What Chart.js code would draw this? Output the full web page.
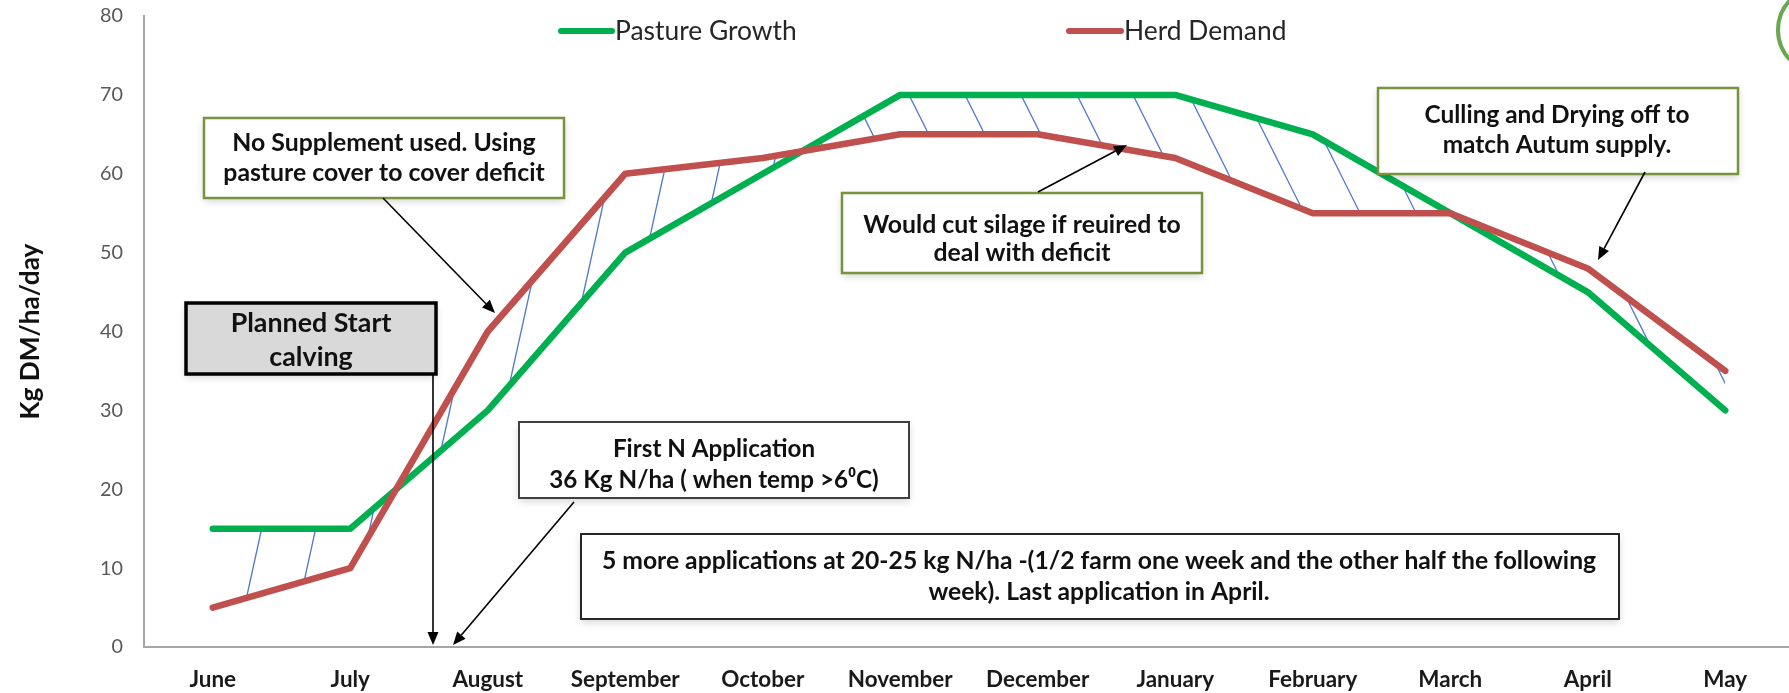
<!DOCTYPE html>
<html>
<head>
<meta charset="utf-8">
<title>Pasture Growth vs Herd Demand</title>
<script src="https://cdn.jsdelivr.net/npm/chart.js"></script>
<style>
    html, body {
        margin: 0;
        padding: 0;
        background: #fff;
        overflow: hidden;
    }
    #main {
        width: 1800px;
        height: 693px;
    }
</style>
</head>
<body>
<div id="main"><canvas id="myChart" width="1800" height="693"></canvas></div>
<script>
    // chart data
    var months = ['June', 'July', 'August', 'September', 'October', 'November',
        'December', 'January', 'February', 'March', 'April', 'May'];
    var pastureGrowth = [15, 15, 30, 50, 60, 70, 70, 70, 65, 55, 45, 30];
    var herdDemand = [5, 10, 40, 60, 62, 65, 65, 62, 55, 55, 48, 35];
    var seriesNames = ['Pasture Growth', 'Herd Demand'];
    var yMin = 0, yMax = 80, yStep = 10;

    var FONT = 'Lato';
    var measureCtx = document.createElement('canvas').getContext('2d');

    // font size that makes a text line a given width
    function fitSize(text, weight, target) {
        measureCtx.font = weight + ' 100px ' + FONT;
        return 100 * target / measureCtx.measureText(text).width;
    }

    var xTickSize = fitSize('September', 'bold', 109);
    var yTickSize = fitSize('80', 'normal', 23);
    var yTitleSize = fitSize('Kg DM/ha/day', 'bold', 176);

    // hatch pattern between the two lines
    function makeHatch(w, h) {
        var c = document.createElement('canvas');
        c.width = w; c.height = h;
        var g = c.getContext('2d');
        g.strokeStyle = 'rgba(68,114,196,0.95)';
        g.lineWidth = 1.3;
        var split = 820;
        g.save();
        g.beginPath(); g.rect(0, 0, split, h); g.clip();
        for (var x = 0; x < split + 0.22 * h + 60; x += 54) {
            g.beginPath(); g.moveTo(x, 0); g.lineTo(x - 0.22 * h, h); g.stroke();
        }
        g.restore();
        g.save();
        g.beginPath(); g.rect(split, 0, w - split, h); g.clip();
        for (var x2 = split - 0.5 * h - 60; x2 < w; x2 += 56) {
            g.beginPath(); g.moveTo(x2, 0); g.lineTo(x2 + 0.5 * h, h); g.stroke();
        }
        g.restore();
        return measureCtx.createPattern(c, 'no-repeat');
    }
    var hatch = makeHatch(1800, 693);

    // text boxes and arrows (pixel layout)
    var notes = [
        { box: [204, 118, 564, 198], stroke: '#77933C', lw: 2.5, fill: '#fff', cx: 384, ys: [143, 173],
          lines: ['No Supplement used. Using', 'pasture cover to cover deficit'], fitLine: 1, fitWidth: 321 },
        { box: [186, 303, 436, 374], stroke: '#000', lw: 3.5, fill: '#D9D9D9', cx: 311, ys: [323, 357],
          lines: ['Planned Start', 'calving'], fitLine: 0, fitWidth: 161 },
        { box: [519, 422, 909, 498], stroke: '#404040', lw: 2, fill: '#fff', cx: 714, ys: [449, 480],
          lines: ['First N Application', '36 Kg N/ha ( when temp >6\u2070C)'], fitLine: 1, fitWidth: 329 },
        { box: [581, 534, 1619, 619], stroke: '#262626', lw: 2, fill: '#fff', cx: 1099, ys: [561, 592],
          lines: ['5 more applications at 20-25 kg N/ha -(1/2 farm one week and the other half the following',
              'week). Last application in April.'], fitLine: 0, fitWidth: 996 },
        { box: [842, 193, 1202, 273], stroke: '#77933C', lw: 2.5, fill: '#fff', cx: 1022, ys: [225, 253],
          lines: ['Would cut silage if reuired to', 'deal with deficit'], fitLine: 0, fitWidth: 318 },
        { box: [1378, 88, 1738, 174], stroke: '#77933C', lw: 2.5, fill: '#fff', cx: 1557, ys: [115, 145],
          lines: ['Culling and Drying off to', 'match Autum supply.'], fitLine: 0, fitWidth: 265 }
    ];
    notes.forEach(function (n) {
        n.size = fitSize(n.lines[n.fitLine], 'bold', n.fitWidth);
    });

    var arrows = [
        [383, 198, 495, 313],
        [433, 374, 433, 645],
        [574, 502, 453, 645],
        [1038, 192, 1127, 145],
        [1645, 172, 1598, 260]
    ];

    var legendItems = [
        { x1: 561, x2: 612, y: 31 },
        { x1: 1069, x2: 1121, y: 31 }
    ];

    function drawArrow(ctx, a) {
        var x1 = a[0], y1 = a[1], x2 = a[2], y2 = a[3];
        var ang = Math.atan2(y2 - y1, x2 - x1);
        var hl = 13, hw = 5.5;
        var bx = x2 - hl * Math.cos(ang), by = y2 - hl * Math.sin(ang);
        ctx.strokeStyle = '#000';
        ctx.fillStyle = '#000';
        ctx.lineWidth = 1.6;
        ctx.beginPath(); ctx.moveTo(x1, y1); ctx.lineTo(bx, by); ctx.stroke();
        ctx.beginPath();
        ctx.moveTo(x2, y2);
        ctx.lineTo(bx + hw * Math.sin(ang), by - hw * Math.cos(ang));
        ctx.lineTo(bx - hw * Math.sin(ang), by + hw * Math.cos(ang));
        ctx.closePath(); ctx.fill();
    }

    var overlay = {
        id: 'overlay',
        afterDraw: function (chart) {
            var ctx = chart.ctx;
            ctx.save();

            // legend
            chart.data.datasets.forEach(function (ds, i) {
                var li = legendItems[i];
                ctx.strokeStyle = ds.borderColor;
                ctx.lineWidth = 6;
                ctx.lineCap = 'round';
                ctx.beginPath(); ctx.moveTo(li.x1, li.y); ctx.lineTo(li.x2, li.y); ctx.stroke();
                ctx.fillStyle = '#262626';
                ctx.font = 'normal ' + fitSize('Pasture Growth', 'normal', 182).toFixed(1) + 'px ' + FONT;
                ctx.textAlign = 'left';
                ctx.textBaseline = 'middle';
                ctx.fillText(ds.label, li.x2 + 3, li.y);
            });
            ctx.lineCap = 'butt';

            // logo ring, top right
            ctx.strokeStyle = '#6AA84F';
            ctx.lineWidth = 4;
            ctx.beginPath(); ctx.arc(1821, 30, 43, 0, Math.PI * 2); ctx.stroke();

            // boxes
            notes.forEach(function (n) {
                var b = n.box;
                ctx.save();
                ctx.shadowColor = 'rgba(0,0,0,0.18)';
                ctx.shadowBlur = 8;
                ctx.shadowOffsetY = 3;
                ctx.fillStyle = n.fill;
                ctx.fillRect(b[0], b[1], b[2] - b[0], b[3] - b[1]);
                ctx.restore();
                ctx.strokeStyle = n.stroke;
                ctx.lineWidth = n.lw;
                ctx.strokeRect(b[0], b[1], b[2] - b[0], b[3] - b[1]);
                ctx.fillStyle = '#111';
                ctx.font = 'bold ' + n.size.toFixed(1) + 'px ' + FONT;
                ctx.textAlign = 'center';
                ctx.textBaseline = 'middle';
                n.lines.forEach(function (t, k) {
                    ctx.fillText(t, n.cx, n.ys[k]);
                });
            });

            arrows.forEach(function (a) { drawArrow(ctx, a); });
            ctx.restore();
        }
    };

    var ctx = document.getElementById('myChart').getContext('2d');
    var chart = new Chart(ctx, {
        type: 'line',
        data: {
            labels: months,
            datasets: [
                {
                    label: seriesNames[0],
                    data: pastureGrowth,
                    borderColor: '#00B050',
                    borderWidth: 6.5,
                    borderCapStyle: 'round',
                    borderJoinStyle: 'round',
                    pointRadius: 0,
                    tension: 0,
                    fill: false,
                    order: 2
                },
                {
                    label: seriesNames[1],
                    data: herdDemand,
                    borderColor: '#C0504D',
                    backgroundColor: hatch,
                    borderWidth: 6.5,
                    borderCapStyle: 'round',
                    borderJoinStyle: 'round',
                    pointRadius: 0,
                    tension: 0,
                    fill: '-1',
                    order: 1
                }
            ]
        },
        options: {
            responsive: false,
            animation: false,
            layout: {
                padding: { left: 0, top: 0, right: 6, bottom: 0 }
            },
            plugins: {
                legend: { display: false },
                tooltip: { enabled: false },
                filler: { drawTime: 'beforeDatasetsDraw' }
            },
            scales: {
                x: {
                    offset: true,
                    grid: { display: false, drawTicks: false },
                    border: { display: true, color: '#A6A6A6', width: 2 },
                    ticks: {
                        padding: 19,
                        color: '#1a1a1a',
                        maxRotation: 0,
                        autoSkip: false,
                        font: { family: FONT, size: xTickSize, weight: 'bold' }
                    },
                    afterFit: function (scale) { scale.height = 46; }
                },
                y: {
                    min: yMin,
                    max: yMax,
                    grid: { display: false, drawTicks: false },
                    border: { display: true, color: '#A6A6A6', width: 2 },
                    ticks: {
                        stepSize: yStep,
                        padding: 21,
                        color: '#595959',
                        font: { family: FONT, size: yTickSize }
                    },
                    title: {
                        display: true,
                        text: 'Kg DM/ha/day',
                        color: '#111',
                        padding: { top: 15, bottom: 0 },
                        font: { family: FONT, size: yTitleSize, weight: 'bold' }
                    },
                    afterFit: function (scale) {
                        scale.width = 144;
                        scale.paddingTop = 16;
                        scale.paddingBottom = 0;
                    }
                }
            }
        },
        plugins: [overlay]
    });
</script>
</body>
</html>
